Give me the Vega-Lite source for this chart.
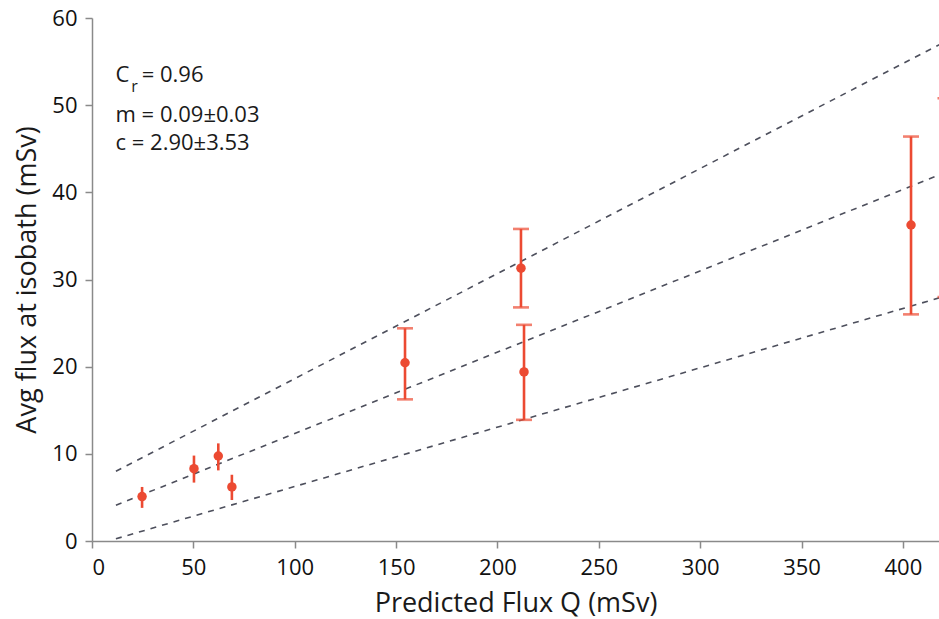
{
  "$schema": "https://vega.github.io/schema/vega-lite/v6.json",
  "width": 847,
  "height": 523,
  "autosize": {"type": "none"},
  "padding": {"left": 92, "top": 18, "right": 0, "bottom": 78},
  "background": "white",
  "config": {
    "font": "Open Sans",
    "view": {"stroke": null},
    "axis": {
      "domainColor": "#8a8a8a",
      "tickColor": "#8a8a8a",
      "domainWidth": 1.5,
      "tickWidth": 1.5,
      "tickSize": 7,
      "grid": false,
      "labelFont": "Open Sans",
      "titleFont": "Open Sans",
      "labelFontSize": 22,
      "titleFontSize": 27,
      "labelColor": "#111111",
      "titleColor": "#1a1a1a",
      "titleFontWeight": "normal"
    }
  },
  "datasets": {
    "points": [
      {"q": 24.7, "flux": 5.1, "lo": 3.8, "hi": 6.2},
      {"q": 50.3, "flux": 8.3, "lo": 6.7, "hi": 9.8},
      {"q": 62.3, "flux": 9.75, "lo": 8.1, "hi": 11.2},
      {"q": 69.0, "flux": 6.2, "lo": 4.7, "hi": 7.6},
      {"q": 154.4, "flux": 20.45, "lo": 16.25, "hi": 24.4},
      {"q": 211.6, "flux": 31.3, "lo": 26.8, "hi": 35.8},
      {"q": 213.1, "flux": 19.4, "lo": 13.9, "hi": 24.8},
      {"q": 404.0, "flux": 36.25, "lo": 26.0, "hi": 46.4},
      {"q": 421.0, "flux": 39.5, "lo": 28.0, "hi": 50.8}
    ],
    "lines": [
      {"band": "upper", "q": 11.8, "flux": 8.0},
      {"band": "upper", "q": 418, "flux": 56.95},
      {"band": "middle", "q": 11.8, "flux": 4.1},
      {"band": "middle", "q": 418, "flux": 42.0},
      {"band": "lower", "q": 11.8, "flux": 0.25},
      {"band": "lower", "q": 418, "flux": 27.9}
    ],
    "notes": [
      {"q": 11.6, "flux": 53.45, "label": "C"},
      {"q": 24.5, "flux": 53.45, "label": "= 0.96"},
      {"q": 11.6, "flux": 48.85, "label": "m = 0.09±0.03"},
      {"q": 11.6, "flux": 45.65, "label": "c = 2.90±3.53"}
    ],
    "subs": [
      {"q": 19.4, "flux": 52.1, "label": "r"}
    ]
  },
  "encoding": {
    "x": {
      "field": "q",
      "type": "quantitative",
      "scale": {"domain": [0, 417.8], "nice": false, "zero": false},
      "axis": {"values": [0, 50, 100, 150, 200, 250, 300, 350, 400], "title": "Predicted Flux Q (mSv)", "labelPadding": 9, "titlePadding": 12}
    },
    "y": {
      "field": "flux",
      "type": "quantitative",
      "scale": {"domain": [0, 60], "nice": false},
      "axis": {"values": [0, 10, 20, 30, 40, 50, 60], "title": "Avg flux at isobath (mSv)", "labelPadding": 8, "titlePadding": 10}
    }
  },
  "layer": [
    {
      "data": {"name": "lines"},
      "mark": {"type": "line", "clip": true, "color": "#4d4f5c", "strokeWidth": 1.6, "strokeDash": [6, 6]},
      "encoding": {"detail": {"field": "band"}}
    },
    {
      "data": {"name": "points"},
      "mark": {"type": "rule", "clip": true, "color": "#ec4a32", "strokeWidth": 2.6},
      "encoding": {"y": {"field": "lo", "type": "quantitative"}, "y2": {"field": "hi"}}
    },
    {
      "data": {"name": "points"},
      "transform": [{"filter": "datum.q > 100"}],
      "mark": {"type": "tick", "clip": true, "orient": "horizontal", "color": "#ec4a32", "thickness": 2.6, "size": 16},
      "encoding": {"y": {"field": "lo", "type": "quantitative"}}
    },
    {
      "data": {"name": "points"},
      "transform": [{"filter": "datum.q > 100"}],
      "mark": {"type": "tick", "clip": true, "orient": "horizontal", "color": "#ec4a32", "thickness": 2.6, "size": 16},
      "encoding": {"y": {"field": "hi", "type": "quantitative"}}
    },
    {
      "data": {"name": "points"},
      "mark": {"type": "point", "clip": true, "filled": true, "shape": "circle", "size": 90, "color": "#ec4a32", "opacity": 1},
      "encoding": {}
    },
    {
      "data": {"name": "notes"},
      "mark": {"type": "text", "align": "left", "baseline": "middle", "fontSize": 22, "color": "#1a1a1a", "font": "Open Sans"},
      "encoding": {"text": {"field": "label"}}
    },
    {
      "data": {"name": "subs"},
      "mark": {"type": "text", "align": "left", "baseline": "middle", "fontSize": 16, "color": "#1a1a1a", "font": "Open Sans"},
      "encoding": {"text": {"field": "label"}}
    }
  ]
}
